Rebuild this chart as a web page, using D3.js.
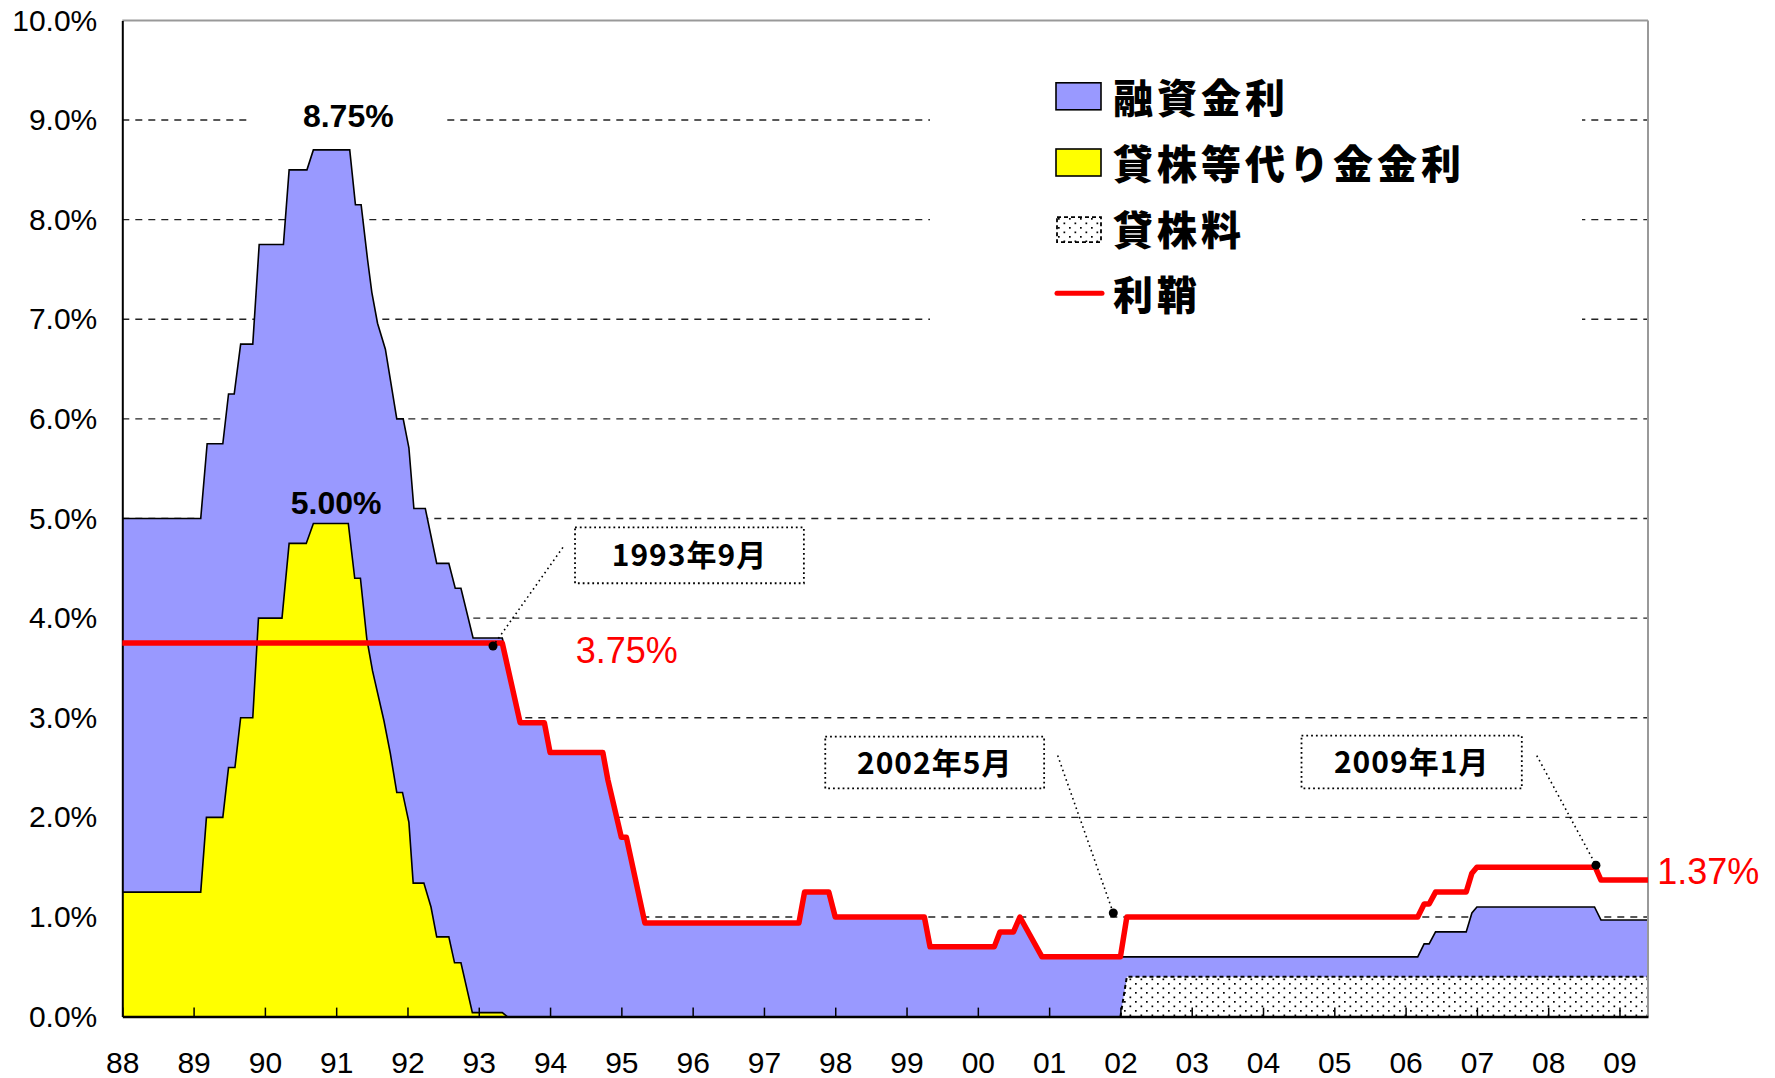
<!DOCTYPE html>
<html>
<head>
<meta charset="utf-8">
<script src="https://cdn.jsdelivr.net/npm/d3@7"></script>
<style>
body { margin: 0; background: #fff; }
svg { display: block; }
</style>
</head>
<body>
<div id="chart"></div>
<script>
// ---- data (decimal year, %) ----
var yearTicks = d3.range(1988, 2010);
var rateTicks = [0, 1, 2, 3, 4, 5, 6, 7, 8, 9, 10];

// 融資金利
var loanYears = [1988.0, 1989.10, 1989.19, 1989.41, 1989.49, 1989.57, 1989.66, 1989.83, 1989.92, 1990.26,
  1990.34, 1990.59, 1990.68, 1991.19, 1991.27, 1991.35, 1991.44, 1991.50, 1991.58, 1991.69, 1991.85, 1991.94,
  1992.02, 1992.09, 1992.25, 1992.41, 1992.58, 1992.67, 1992.75, 1992.92, 1993.33, 1993.58, 1993.92, 1994.0,
  1994.74, 1994.81, 1995.0, 1995.07, 1995.33, 1997.49, 1997.57, 1997.91, 1998.0, 1999.25, 1999.33, 2000.23,
  2000.31, 2000.50, 2000.59, 2000.90, 2006.17, 2006.26, 2006.33, 2006.42, 2006.85, 2006.93, 2007.0, 2008.65,
  2008.74, 2009.4];
var loanRates = [5.0, 5.0, 5.75, 5.75, 6.25, 6.25, 6.75, 6.75, 7.75, 7.75,
  8.5, 8.5, 8.7, 8.7, 8.15, 8.15, 7.6, 7.27, 6.96, 6.7, 6.0, 6.0,
  5.71, 5.1, 5.1, 4.55, 4.55, 4.3, 4.3, 3.8, 3.8, 2.95, 2.95, 2.65,
  2.65, 2.38, 1.8, 1.8, 0.94, 0.94, 1.25, 1.25, 1.0, 1.0, 0.7, 0.7,
  0.85, 0.85, 1.0, 0.6, 0.6, 0.73, 0.73, 0.85, 0.85, 1.04, 1.1, 1.1,
  0.97, 0.97];

// 貸株等代り金金利
var stockYears = [1988.0, 1989.10, 1989.18, 1989.41, 1989.49, 1989.58, 1989.66, 1989.83, 1989.91, 1990.24,
  1990.34, 1990.58, 1990.68, 1991.17, 1991.26, 1991.34, 1991.43, 1991.51, 1991.67, 1991.76, 1991.85, 1991.93,
  1992.02, 1992.08, 1992.23, 1992.33, 1992.41, 1992.58, 1992.66, 1992.75, 1992.91, 1993.33, 1993.40];
var stockRates = [1.25, 1.25, 2.0, 2.0, 2.5, 2.5, 3.0, 3.0, 4.0, 4.0,
  4.75, 4.75, 4.95, 4.95, 4.4, 4.4, 3.79, 3.47, 2.97, 2.64, 2.25, 2.25,
  1.95, 1.34, 1.34, 1.10, 0.80, 0.80, 0.54, 0.54, 0.04, 0.04, 0.0];

// 貸株料
var feeYears = [2002.0, 2002.09, 2009.4];
var feeRates = [0.0, 0.4, 0.4];

// 利鞘
var spreadYears = [1988.0, 1993.33, 1993.58, 1993.92, 1994.0, 1994.74, 1994.81, 1995.0, 1995.07, 1995.33,
  1997.49, 1997.57, 1997.91, 1998.0, 1999.25, 1999.33, 2000.23, 2000.31, 2000.50, 2000.59, 2000.90, 2002.0,
  2002.09, 2006.17, 2006.26, 2006.33, 2006.42, 2006.85, 2006.93, 2007.0, 2008.66, 2008.74, 2009.4];
var spreadRates = [3.75, 3.75, 2.95, 2.95, 2.65, 2.65, 2.38, 1.8, 1.8, 0.94,
  0.94, 1.25, 1.25, 1.0, 1.0, 0.7, 0.7, 0.85, 0.85, 1.0, 0.6, 0.6,
  1.0, 1.0, 1.13, 1.13, 1.25, 1.25, 1.44, 1.5, 1.5, 1.37, 1.37];

var legendLabels = ["融資金利", "貸株等代り金金利", "貸株料", "利鞘"];

// callouts: label, box [year0, year1, rate top, rate bottom], leader start, marked point
var callouts = [
  { text: "1993年9月", box: [1994.35, 1997.56, 4.91, 4.35], from: [1994.18, 4.71], at: [1993.20, 3.72] },
  { text: "2002年5月", box: [1997.86, 2000.93, 2.81, 2.29], from: [2001.12, 2.62], at: [2001.90, 1.04] },
  { text: "2009年1月", box: [2004.54, 2007.63, 2.82, 2.29], from: [2007.84, 2.62], at: [2008.67, 1.52] }
];

// ---- layout ----
var width = 1775, height = 1078;
var margin = { top: 20.4, right: 127, bottom: 61.4, left: 122.3 };

var x = d3.scaleLinear().domain([1988, 2009.4]).range([margin.left, width - margin.right]);
var y = d3.scaleLinear().domain([0, 10]).range([height - margin.bottom, margin.top]);

function pts(xs, ys) { return xs.map(function(d, i) { return [d, ys[i]]; }); }
var loan = pts(loanYears, loanRates),
    stock = pts(stockYears, stockRates),
    fee = pts(feeYears, feeRates),
    spread = pts(spreadYears, spreadRates);

var area = d3.area().x(function(d) { return x(d[0]); }).y0(y(0)).y1(function(d) { return y(d[1]); });
var line = d3.line().x(function(d) { return x(d[0]); }).y(function(d) { return y(d[1]); });

var tickFont = "'Liberation Sans', Arial, sans-serif";
var jpFont = "'Noto Sans CJK JP', 'Noto Sans', sans-serif";

var svg = d3.select("#chart").append("svg")
            .attr("width", width)
            .attr("height", height);

svg.append("rect").attr("width", width).attr("height", height).attr("fill", "#fff");

var defs = svg.append("defs");
var pat = defs.append("pattern")
              .attr("id", "dots")
              .attr("patternUnits", "userSpaceOnUse")
              .attr("width", 11).attr("height", 9);
pat.append("rect").attr("width", 11).attr("height", 9).attr("fill", "#fff");
pat.append("rect").attr("x", 2).attr("y", 2).attr("width", 1.7).attr("height", 1.7).attr("fill", "#000");
pat.append("rect").attr("x", 7.5).attr("y", 6.5).attr("width", 1.7).attr("height", 1.7).attr("fill", "#000");

// gridlines
svg.append("g")
   .selectAll("line")
   .data(rateTicks.filter(function(d) { return d > 0 && d < 10; }))
   .enter().append("line")
   .attr("x1", x(1988)).attr("x2", x(2009.4))
   .attr("y1", function(d) { return y(d); })
   .attr("y2", function(d) { return y(d); })
   .attr("stroke", "#222")
   .attr("stroke-width", 1.4)
   .attr("stroke-dasharray", "7,6");

// white backgrounds of legend and peak label
svg.append("rect")
   .attr("x", 930).attr("y", 55).attr("width", 652).attr("height", 290)
   .attr("fill", "#fff");
svg.append("rect")
   .attr("x", x(1989.80)).attr("y", y(9.2))
   .attr("width", x(1992.52) - x(1989.80)).attr("height", y(8.8) - y(9.2))
   .attr("fill", "#fff");

// areas
svg.append("path").datum(loan).attr("d", area).attr("fill", "#9999FF");
svg.append("path").datum(stock).attr("d", area).attr("fill", "#FFFF00");
svg.append("path").datum(fee).attr("d", area).attr("fill", "url(#dots)");

svg.append("path").datum(loan).attr("d", line)
   .attr("fill", "none").attr("stroke", "#000").attr("stroke-width", 1.6);
svg.append("path").datum(stock).attr("d", line)
   .attr("fill", "none").attr("stroke", "#000").attr("stroke-width", 1.6);
svg.append("path").datum(fee.concat([[2009.4, 0]])).attr("d", line)
   .attr("fill", "none").attr("stroke", "#000").attr("stroke-width", 2)
   .attr("stroke-dasharray", "4,3");

// frame
svg.append("line")
   .attr("x1", x(1988)).attr("x2", x(2009.4)).attr("y1", y(10)).attr("y2", y(10))
   .attr("stroke", "#999").attr("stroke-width", 2);
svg.append("line")
   .attr("x1", x(2009.4)).attr("x2", x(2009.4)).attr("y1", y(10)).attr("y2", y(0))
   .attr("stroke", "#999").attr("stroke-width", 2);

// axes
var xAxis = svg.append("g")
   .attr("transform", "translate(0," + y(0) + ")")
   .call(d3.axisBottom(x).tickValues(yearTicks).tickSize(-9).tickSizeOuter(0).tickPadding(35)
           .tickFormat(function(d) { return String(d).slice(2); }));
xAxis.select(".domain").attr("stroke", "#000").attr("stroke-width", 2.5);
xAxis.selectAll(".tick line").attr("stroke", "#000").attr("stroke-width", 1.5);
xAxis.selectAll("text").attr("font-family", tickFont).attr("font-size", 30).attr("fill", "#000");

var yAxis = svg.append("g")
   .attr("transform", "translate(" + x(1988) + ",0)")
   .call(d3.axisLeft(y).tickValues(rateTicks).tickSize(0).tickPadding(25)
           .tickFormat(function(d) { return d.toFixed(1) + "%"; }));
yAxis.select(".domain").attr("stroke", "#000").attr("stroke-width", 2);
yAxis.selectAll("text").attr("font-family", tickFont).attr("font-size", 30).attr("fill", "#000");

// 利鞘 line
svg.append("path").datum(spread).attr("d", line)
   .attr("fill", "none").attr("stroke", "#FF0000").attr("stroke-width", 5.5)
   .attr("stroke-linejoin", "round");

// callouts
var co = svg.append("g").selectAll("g").data(callouts).enter().append("g");
co.append("line")
  .attr("x1", function(d) { return x(d.from[0]); })
  .attr("y1", function(d) { return y(d.from[1]); })
  .attr("x2", function(d) { return x(d.at[0]); })
  .attr("y2", function(d) { return y(d.at[1]); })
  .attr("stroke", "#000").attr("stroke-width", 1.6).attr("stroke-dasharray", "1.6,3.4");
co.append("circle")
  .attr("cx", function(d) { return x(d.at[0]); })
  .attr("cy", function(d) { return y(d.at[1]); })
  .attr("r", 4.5).attr("fill", "#000");
co.append("rect")
  .attr("x", function(d) { return x(d.box[0]); })
  .attr("y", function(d) { return y(d.box[2]); })
  .attr("width", function(d) { return x(d.box[1]) - x(d.box[0]); })
  .attr("height", function(d) { return y(d.box[3]) - y(d.box[2]); })
  .attr("fill", "#fff").attr("stroke", "#000").attr("stroke-width", 1.8)
  .attr("stroke-dasharray", "1.8,3");
co.append("text")
  .attr("x", function(d) { return (x(d.box[0]) + x(d.box[1])) / 2; })
  .attr("y", function(d) { return (y(d.box[2]) + y(d.box[3])) / 2 + 11; })
  .attr("text-anchor", "middle")
  .attr("font-family", jpFont).attr("font-weight", 700).attr("font-size", 30)
  .attr("letter-spacing", 1)
  .attr("fill", "#000")
  .text(function(d) { return d.text; });

// value labels
svg.append("text").attr("x", x(1991.17)).attr("y", y(8.93))
   .attr("text-anchor", "middle").attr("font-family", tickFont).attr("font-weight", 700)
   .attr("font-size", 32).text("8.75%");
svg.append("text").attr("x", x(1991.0)).attr("y", y(5.05))
   .attr("text-anchor", "middle").attr("font-family", tickFont).attr("font-weight", 700)
   .attr("font-size", 32).text("5.00%");
svg.append("text").attr("x", x(1994.36)).attr("y", y(3.55))
   .attr("font-family", tickFont).attr("font-size", 36).attr("fill", "#FF0000").text("3.75%");
svg.append("text").attr("x", x(2009.53)).attr("y", y(1.33))
   .attr("font-family", tickFont).attr("font-size", 36).attr("fill", "#FF0000").text("1.37%");

// legend
var lg = svg.append("g").attr("transform", "translate(1056,0)");
var swatchY = [96.3, 162.5, 229.7, 293.3];
var textY = [97.7, 163.8, 230, 295];
lg.append("rect").attr("x", 0).attr("y", swatchY[0] - 13.5).attr("width", 45).attr("height", 27)
  .attr("fill", "#9999FF").attr("stroke", "#000").attr("stroke-width", 1.6);
lg.append("rect").attr("x", 0).attr("y", swatchY[1] - 13.5).attr("width", 45).attr("height", 27)
  .attr("fill", "#FFFF00").attr("stroke", "#000").attr("stroke-width", 1.6);
lg.append("rect").attr("x", 1).attr("y", swatchY[2] - 12.5).attr("width", 44).attr("height", 25)
  .attr("fill", "url(#dots)").attr("stroke", "#000").attr("stroke-width", 1.8)
  .attr("stroke-dasharray", "4,3");
lg.append("line").attr("x1", 1).attr("x2", 46).attr("y1", swatchY[3]).attr("y2", swatchY[3])
  .attr("stroke", "#FF0000").attr("stroke-width", 5).attr("stroke-linecap", "round");
lg.selectAll("text.lab").data(legendLabels).enter().append("text")
  .attr("class", "lab")
  .attr("x", 57)
  .attr("y", function(d, i) { return textY[i] + 15; })
  .attr("font-family", jpFont).attr("font-weight", 900).attr("font-size", 40)
  .attr("letter-spacing", 4)
  .text(function(d) { return d; });
</script>
</body>
</html>
